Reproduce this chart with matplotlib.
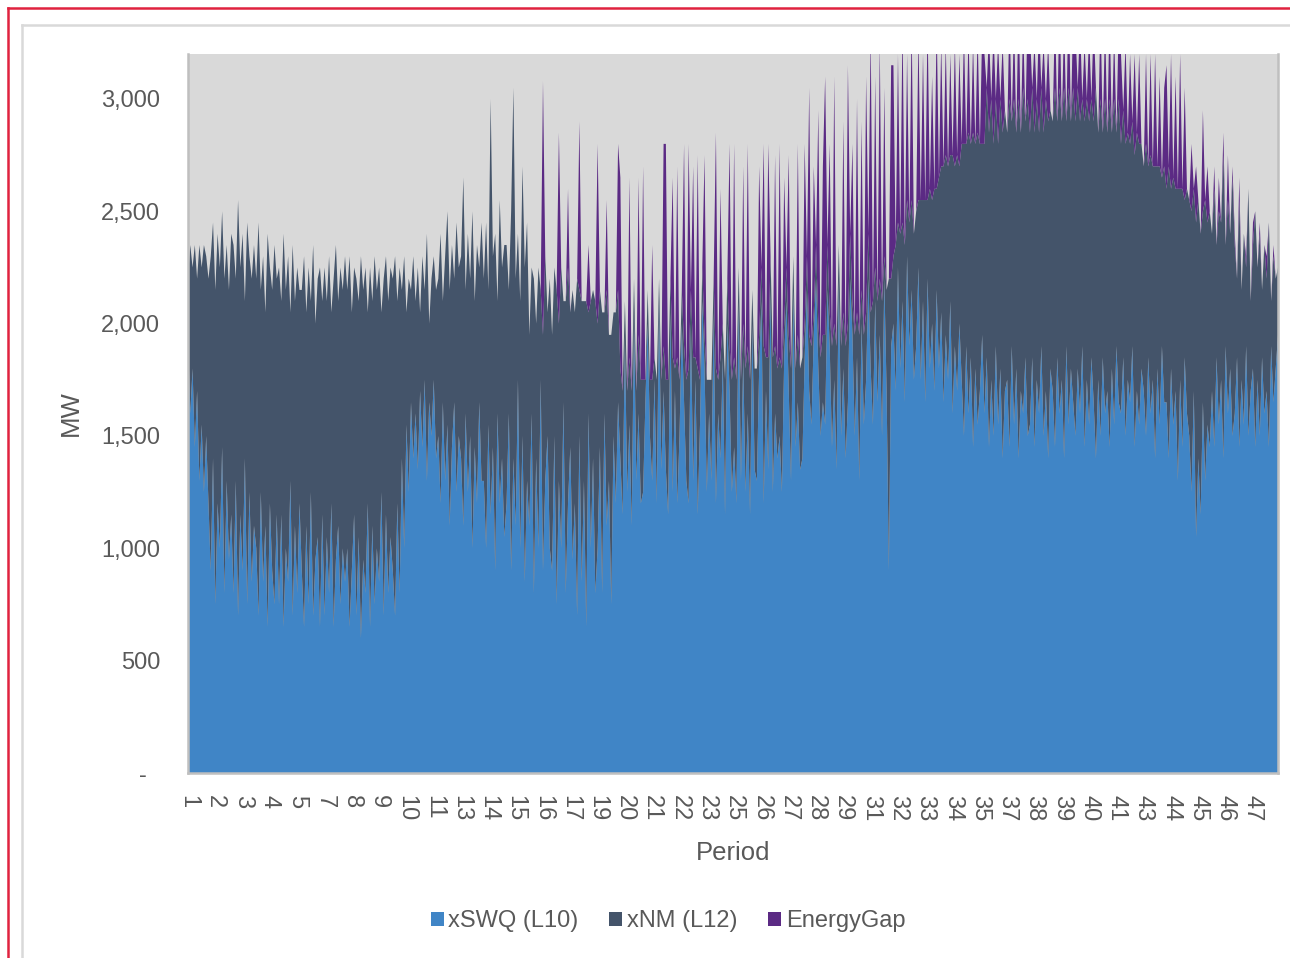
import numpy as np
import matplotlib
matplotlib.use("Agg")
import matplotlib.pyplot as plt
from matplotlib.patches import Patch
from matplotlib.lines import Line2D

plt.rcParams['font.family'] = ['Liberation Sans', 'DejaVu Sans']

# MW per period, ten samples per settlement period (1..48)
swq = [
    [1950, 1600, 1800, 1450, 1700, 1300, 1550, 1250, 1500, 1200],
    [900, 1400, 750, 1200, 1000, 1450, 800, 1300, 950, 1150],
    [800, 1300, 700, 1150, 900, 1400, 750, 1250, 850, 1100],
    [1000, 700, 1250, 850, 1100, 650, 1200, 900, 750, 1150],
    [750, 1150, 650, 1000, 850, 1300, 700, 1100, 800, 1200],
    [900, 650, 1100, 750, 1250, 700, 950, 1050, 650, 1150],
    [700, 1050, 800, 1200, 650, 950, 1100, 750, 1000, 850],
    [1000, 650, 900, 1150, 700, 1050, 600, 950, 800, 1200],
    [650, 1100, 750, 1000, 850, 1250, 700, 1150, 800, 1050],
    [900, 700, 1200, 800, 1400, 1000, 1550, 1250, 1650, 1400],
    [1600, 1350, 1700, 1450, 1750, 1300, 1650, 1500, 1750, 1400],
    [1500, 1200, 1650, 1300, 1550, 1100, 1450, 1650, 1250, 1500],
    [1400, 1100, 1600, 1250, 1500, 1000, 1450, 1200, 1650, 1300],
    [1300, 1000, 1550, 1150, 1450, 900, 1600, 1200, 1400, 1050],
    [1200, 1600, 900, 1400, 1100, 1750, 1000, 1500, 850, 1300],
    [1100, 1600, 800, 1400, 1000, 1750, 900, 1300, 1500, 1000],
    [900, 1500, 750, 1300, 1000, 1650, 800, 1200, 1450, 950],
    [1200, 700, 1500, 850, 1300, 650, 1600, 1000, 1400, 800],
    [1000, 1450, 800, 1600, 1100, 1300, 750, 1500, 1200, 1650],
    [1400, 1150, 1950, 1250, 1550, 1100, 2050, 1300, 1600, 1200],
    [1250, 1650, 2000, 1500, 1300, 1750, 1200, 2100, 1350, 1700],
    [1350, 1150, 2050, 1250, 1700, 1200, 1500, 2000, 1650, 1300],
    [1200, 2000, 1300, 1750, 1150, 1550, 2100, 1800, 1250, 1600],
    [1300, 2050, 1200, 1600, 1400, 1850, 1150, 2000, 1700, 1250],
    [1450, 1200, 2100, 1300, 1850, 1250, 1600, 1150, 2000, 1350],
    [1300, 1800, 2100, 1200, 1700, 1350, 2150, 1250, 1600, 1400],
    [1500, 1250, 1850, 2100, 1700, 1300, 2150, 1450, 1650, 1350],
    [1400, 1850, 2150, 1700, 1550, 1950, 2200, 1800, 1500, 1650],
    [1550, 2150, 1900, 1450, 1750, 1350, 2200, 1500, 1800, 1400],
    [1650, 2200, 1950, 1500, 1850, 1300, 2000, 1550, 1750, 2200],
    [1800, 1550, 2100, 1650, 1950, 1500, 2200, 1700, 900, 1900],
    [2000, 1700, 2250, 1800, 2100, 1650, 2300, 1900, 2150, 1750],
    [1900, 2250, 1750, 2100, 1650, 2200, 1800, 2000, 1700, 2150],
    [1800, 2050, 1650, 1950, 1750, 2100, 1600, 1900, 1700, 2000],
    [1750, 1500, 1900, 1600, 1850, 1450, 1800, 1550, 1700, 1950],
    [1600, 1850, 1450, 1750, 1500, 1900, 1550, 1800, 1400, 1700],
    [1750, 1450, 1900, 1550, 1800, 1400, 1700, 1600, 1850, 1500],
    [1550, 1850, 1450, 1750, 1600, 1900, 1500, 1700, 1400, 1800],
    [1700, 1450, 1850, 1600, 1750, 1400, 1900, 1550, 1800, 1650],
    [1500, 1800, 1600, 1900, 1450, 1750, 1550, 1850, 1650, 1400],
    [1750, 1500, 1850, 1600, 1700, 1450, 1800, 1550, 1900, 1650],
    [1600, 1850, 1500, 1750, 1650, 1900, 1450, 1700, 1550, 1800],
    [1700, 1500, 1850, 1600, 1750, 1400, 1800, 1550, 1900, 1650],
    [1650, 1400, 1800, 1550, 1700, 1300, 1750, 1450, 1850, 1600],
    [1500, 1250, 1700, 1050, 1400, 1150, 1650, 1300, 1550, 1450],
    [1700, 1450, 1850, 1550, 1750, 1400, 1900, 1600, 1800, 1500],
    [1600, 1850, 1450, 1750, 1550, 1900, 1500, 1700, 1800, 1450],
    [1750, 1500, 1850, 1600, 1700, 1450, 1900, 1650, 1800, 1950],
]

nm = [
    [250, 750, 450, 900, 500, 1050, 700, 1100, 800, 1000],
    [1400, 1050, 1400, 1200, 1250, 1050, 1400, 1050, 1200, 1250],
    [1550, 900, 1850, 1100, 1500, 700, 1700, 1050, 1350, 1250],
    [1200, 1750, 900, 1450, 950, 1750, 1050, 1250, 1600, 1050],
    [1500, 950, 1750, 1150, 1450, 750, 1650, 1000, 1450, 950],
    [1250, 1650, 950, 1500, 850, 1650, 1050, 1150, 1600, 950],
    [1550, 1050, 1500, 850, 1550, 1400, 1000, 1500, 1150, 1450],
    [1150, 1650, 1150, 1100, 1500, 1050, 1700, 1200, 1450, 850],
    [1600, 1000, 1550, 1150, 1400, 800, 1500, 1150, 1300, 1200],
    [1300, 1600, 900, 1450, 750, 1300, 500, 950, 500, 900],
    [500, 900, 350, 850, 400, 1100, 350, 700, 550, 750],
    [700, 1200, 450, 1000, 950, 1050, 900, 550, 1200, 750],
    [900, 1550, 550, 1150, 700, 1500, 650, 1150, 600, 1150],
    [900, 1450, 600, 1850, 850, 1500, 500, 1350, 850, 1300],
    [1150, 550, 1600, 1650, 1100, 650, 1100, 1200, 1400, 1150],
    [850, 650, 1400, 600, 1250, 400, 1050, 1000, 550, 1200],
    [1050, 750, 1400, 700, 1250, 450, 1300, 1050, 600, 1200],
    [850, 1500, 650, 1250, 800, 1450, 450, 1100, 750, 1300],
    [1000, 700, 1250, 450, 1050, 650, 1200, 550, 850, 500],
    [400, 550, 150, 450, 300, 600, 150, 400, 350, 550],
    [500, 100, 150, 250, 450, 100, 550, 100, 400, 200],
    [400, 600, 150, 600, 100, 650, 250, 150, 250, 450],
    [600, 150, 550, 100, 650, 200, 150, 150, 500, 150],
    [450, 150, 600, 150, 450, 150, 600, 200, 200, 500],
    [400, 550, 150, 450, 150, 550, 300, 600, 150, 450],
    [500, 150, 150, 700, 150, 500, 150, 600, 300, 400],
    [350, 550, 150, 150, 250, 500, 150, 350, 300, 450],
    [450, 150, 150, 250, 350, 100, 150, 200, 350, 300],
    [400, 200, 150, 450, 250, 550, 150, 400, 250, 500],
    [350, 200, 150, 450, 200, 650, 150, 400, 300, 200],
    [250, 550, 150, 450, 250, 600, 100, 450, 1300, 300],
    [300, 650, 200, 600, 350, 700, 250, 550, 400, 650],
    [600, 300, 800, 450, 900, 350, 800, 550, 900, 450],
    [850, 650, 1050, 800, 950, 650, 1150, 800, 1050, 700],
    [1050, 1300, 900, 1250, 950, 1400, 1000, 1300, 1100, 850],
    [1200, 1200, 1400, 1250, 1300, 1100, 1250, 1200, 1450, 1250],
    [1100, 1550, 1000, 1450, 1050, 1600, 1150, 1450, 1050, 1500],
    [1300, 1200, 1400, 1250, 1250, 1150, 1350, 1300, 1500, 1150],
    [1200, 1600, 1050, 1450, 1150, 1650, 1000, 1500, 1100, 1400],
    [1400, 1250, 1300, 1100, 1450, 1250, 1350, 1150, 1250, 1650],
    [1100, 1500, 1000, 1400, 1150, 1550, 1050, 1450, 950, 1350],
    [1200, 1100, 1300, 1100, 1150, 1000, 1300, 1150, 1250, 1000],
    [1000, 1300, 850, 1150, 950, 1300, 900, 1150, 750, 1050],
    [950, 1300, 800, 1100, 900, 1300, 850, 1150, 700, 1000],
    [1050, 1250, 900, 1400, 1150, 1250, 850, 1250, 900, 1050],
    [700, 1150, 500, 950, 700, 1350, 450, 950, 600, 1150],
    [750, 350, 1100, 400, 850, 350, 1100, 400, 550, 1050],
    [500, 900, 300, 750, 500, 1000, 200, 650, 400, 300],
]

energy_gap = [
    [0] * 10, [0] * 10, [0] * 10, [0] * 10, [0] * 10,
    [0] * 10, [0] * 10, [0] * 10, [0] * 10, [0] * 10,
    [0] * 10, [0] * 10, [0] * 10, [0] * 10, [0] * 10,
    [0, 0, 0, 0, 0, 0, 1130, 0, 0, 0],
    [0, 0, 0, 850, 0, 0, 0, 350, 0, 0],
    [0, 0, 750, 0, 0, 0, 300, 0, 0, 0],
    [800, 0, 0, 0, 400, 0, 0, 0, 0, 650],
    [850, 0, 0, 0, 800, 0, 0, 0, 700, 0],
    [950, 0, 0, 0, 600, 0, 0, 0, 0, 900],
    [1050, 0, 0, 800, 0, 850, 0, 0, 900, 0],
    [1000, 0, 850, 0, 950, 0, 0, 800, 0, 0],
    [0, 0, 1050, 0, 750, 0, 0, 0, 900, 0],
    [950, 0, 0, 0, 700, 0, 900, 0, 0, 0],
    [0, 750, 0, 900, 0, 950, 0, 0, 850, 0],
    [950, 0, 650, 0, 800, 0, 0, 0, 850, 0],
    [0, 800, 0, 1100, 0, 650, 0, 950, 0, 750],
    [1150, 0, 750, 0, 1100, 0, 0, 0, 850, 0],
    [1150, 0, 700, 0, 950, 0, 750, 0, 1050, 0],
    [1250, 0, 850, 0, 1050, 0, 750, 0, 0, 950],
    [850, 0, 750, 0, 900, 0, 650, 0, 800, 0],
    [0, 750, 0, 650, 0, 800, 0, 550, 0, 750],
    [0, 550, 0, 500, 0, 450, 0, 550, 0, 500],
    [0, 500, 0, 450, 0, 400, 0, 450, 0, 500],
    [400, 0, 450, 0, 500, 0, 450, 0, 400, 0],
    [0, 400, 0, 350, 0, 450, 0, 300, 0, 400],
    [450, 0, 400, 0, 500, 0, 400, 0, 350, 0],
    [0, 350, 0, 400, 0, 300, 0, 450, 0, 350],
    [400, 0, 450, 0, 350, 0, 400, 0, 450, 0],
    [0, 400, 0, 350, 0, 400, 0, 300, 0, 350],
    [400, 0, 450, 0, 400, 0, 450, 0, 400, 0],
    [0, 400, 0, 450, 0, 500, 0, 400, 0, 350],
    [550, 0, 600, 0, 500, 0, 600, 0, 500, 0],
    [0, 300, 0, 250, 0, 0, 450, 0, 250, 0],
    [0, 100, 0, 150, 0, 100, 0, 200, 0, 50],
    [50, 0, 100, 0, 0, 50, 0, 0, 100, 0],
    [0, 50, 0, 0, 100, 0, 0, 50, 0, 0],
]

series_names = ['xSWQ (L10)', 'xNM (L12)', 'EnergyGap']
colors = ['#4085C6', '#44546A', '#5B2A84']

y_swq = np.concatenate(swq)
y_nm = np.concatenate(nm)
y_gap = np.concatenate(energy_gap)
period = np.concatenate([[p + 1] * len(v) for p, v in enumerate(swq)])
x = np.arange(len(period))

fig = plt.figure(figsize=(12.9, 9.58), dpi=100)
ax = fig.add_axes([188 / 1290, 1 - 773 / 958, 1090 / 1290, 719 / 958])
ax.set_facecolor('#D9D9D9')

ax.stackplot(x, y_swq, y_nm, y_gap, colors=colors, linewidth=0)

ax.set_xlim(0, len(x) - 1)
ax.set_ylim(0, 3200)

# category axis shows every 12th label, like the spreadsheet did
tick_idx = x[::12]
ax.set_xticks(tick_idx)
ax.set_xticklabels([str(period[i]) for i in tick_idx], rotation=-90)
yt = [0, 500, 1000, 1500, 2000, 2500, 3000]
ax.set_yticks(yt)
ax.set_yticklabels(['-  ' if v == 0 else f'{v:,}' for v in yt])
ax.tick_params(axis='both', length=0, labelsize=17, colors='#595959')
ax.tick_params(axis='y', pad=20)
ax.tick_params(axis='x', pad=16)

for s in ['left', 'bottom', 'right']:
    ax.spines[s].set_color('#BFBFBF')
    ax.spines[s].set_linewidth(1.8)
ax.spines['top'].set_visible(False)

ax.set_xlabel('Period', fontsize=18.5, color='#595959', labelpad=14)
ax.set_ylabel('MW', fontsize=18.5, color='#595959', labelpad=13)

handles = [Patch(facecolor=c, edgecolor='none') for c in colors]
fig.legend(handles, series_names, loc='center', ncol=3,
           bbox_to_anchor=(668 / 1290, 1 - 921 / 958), frameon=False,
           fontsize=17, handlelength=0.55, handleheight=0.55,
           handletextpad=0.2, columnspacing=1.3, labelcolor='#595959')

# outer frame lines
W, H = 1290, 958
fig.add_artist(Line2D([22 / W, 22 / W], [0, 1 - 25 / H], color='#D9D9D9', lw=1.8))
fig.add_artist(Line2D([22 / W, 1], [1 - 25 / H, 1 - 25 / H], color='#D9D9D9', lw=1.8))
fig.add_artist(Line2D([8 / W, 8 / W], [0, 1 - 8 / H], color='#E0223F', lw=1.8))
fig.add_artist(Line2D([8 / W, 1], [1 - 8 / H, 1 - 8 / H], color='#E0223F', lw=1.8))

fig.savefig('out.png', dpi=100)
